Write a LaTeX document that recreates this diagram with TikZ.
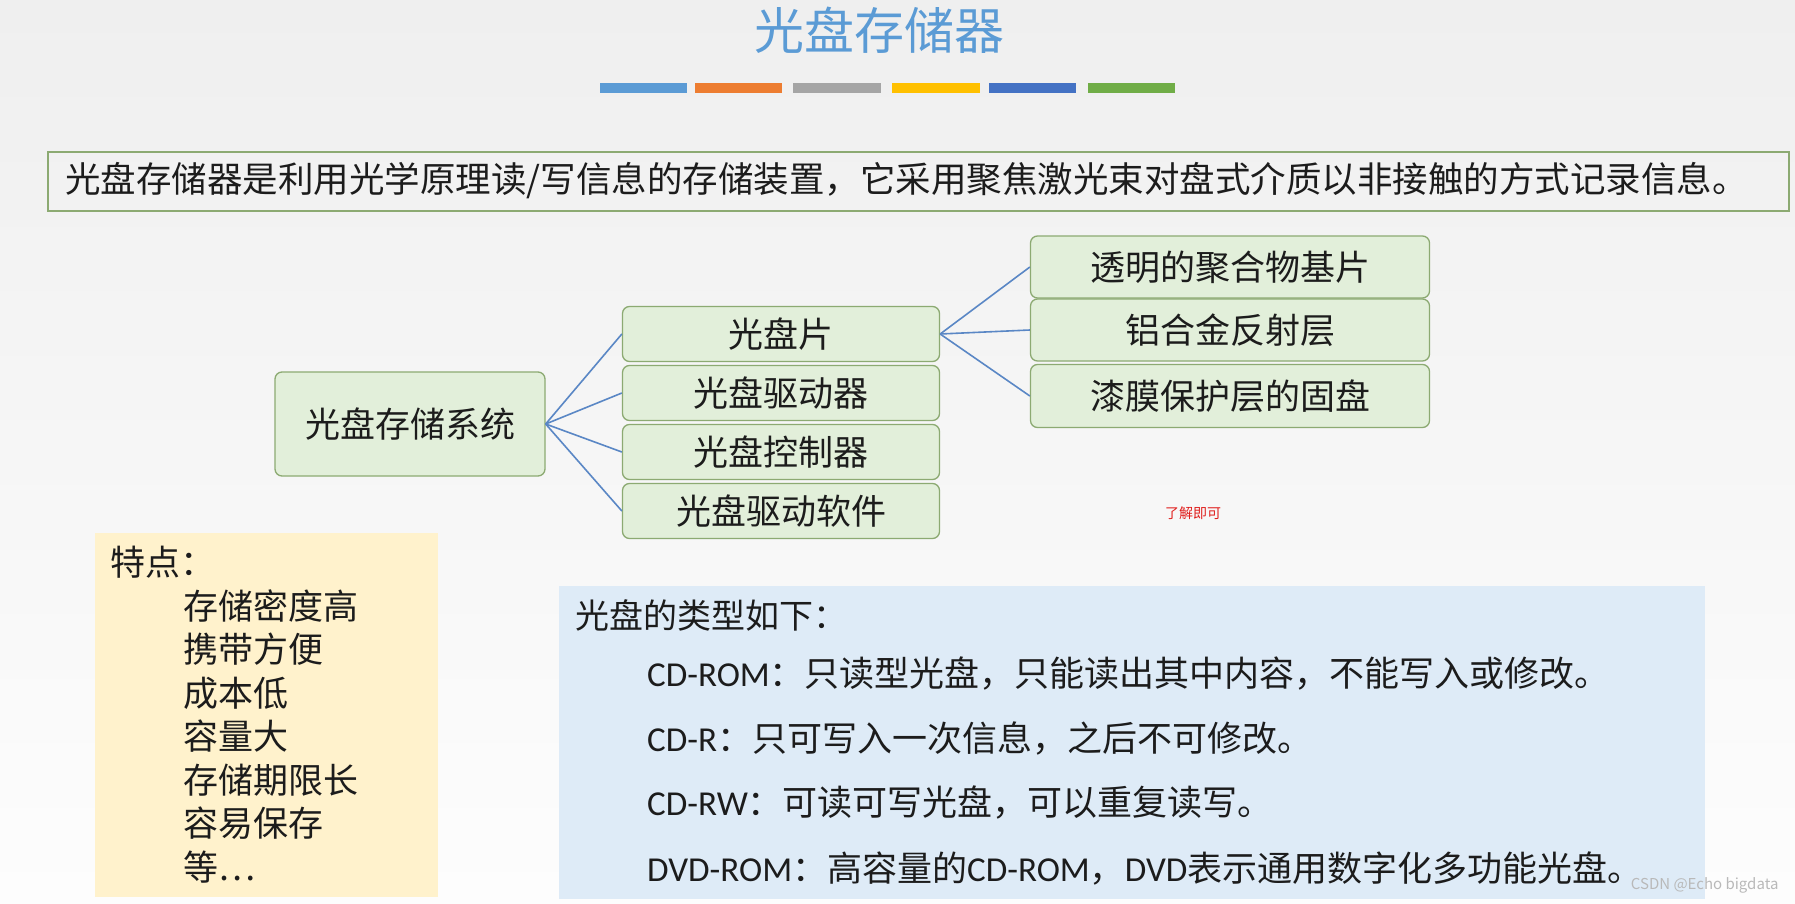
\documentclass[tikz,border=0pt]{standalone}
\usepackage{fontspec}
\setmainfont{Noto Sans CJK SC}
\newfontfamily\latinfont{Carlito}
\definecolor{bgtop}{HTML}{EFEFEF}
\definecolor{bgbottom}{HTML}{FDFDFD}
\definecolor{titleblue}{HTML}{5B9BD5}
\definecolor{bar1}{HTML}{5B9BD5}
\definecolor{bar2}{HTML}{ED7D31}
\definecolor{bar3}{HTML}{A5A5A5}
\definecolor{bar4}{HTML}{FFC000}
\definecolor{bar5}{HTML}{4472C4}
\definecolor{bar6}{HTML}{70AD47}
\definecolor{boxgreen}{HTML}{E2EFDA}
\definecolor{edgegreen}{HTML}{8CAA72}
\definecolor{linkblue}{HTML}{5A87C5}
\definecolor{noteyellow}{HTML}{FFF2CC}
\definecolor{noteblue}{HTML}{DEEBF7}
\definecolor{notered}{HTML}{E0201E}
\definecolor{inkgray}{HTML}{1C1C1C}

\begin{document}
\begin{tikzpicture}[x=1pt,y=-1pt,
  partbox/.style={rounded corners=7pt, fill=boxgreen, draw=edgegreen, line width=1.3pt, text=inkgray, font=\fontsize{35}{40}\selectfont},
  link/.style={draw=linkblue, line width=1.6pt},
  typeline/.style={anchor=west, inner sep=0pt, text=inkgray, font=\fontsize{35}{40}\selectfont},
  featline/.style={anchor=west, inner sep=0pt, text=inkgray, font=\fontsize{35}{40}\selectfont}]
\useasboundingbox (0,0) rectangle (1795,904);
\shade[top color=bgtop, bottom color=bgbottom] (0,0) rectangle (1795,904);

\node (title) [text=titleblue, font=\fontsize{50}{56}\selectfont] at (879,30) {光盘存储器};
\fill[bar1] (600,83) rectangle (687,93);
\fill[bar2] (695,83) rectangle (782,93);
\fill[bar3] (793,83) rectangle (881,93);
\fill[bar4] (892,83) rectangle (980,93);
\fill[bar5] (989,83) rectangle (1076,93);
\fill[bar6] (1088,83) rectangle (1175,93);

\draw[draw=edgegreen, line width=1.3pt] (48,152) rectangle (1789,211);
\node (deftext) [anchor=west, inner sep=0pt, text=inkgray, font=\fontsize{35.5}{40}\selectfont] at (65,181) {光盘存储器是利用光学原理读/写信息的存储装置，它采用聚焦激光束对盘式介质以非接触的方式记录信息。};

\node (system) [partbox, minimum width=270pt, minimum height=104pt] at (410,424) {光盘存储系统};
\node (platter) [partbox, minimum width=317pt, minimum height=55pt] at (781,334) {光盘片};
\node (drive) [partbox, minimum width=317pt, minimum height=55pt] at (781,393) {光盘驱动器};
\node (ctrl) [partbox, minimum width=317pt, minimum height=55pt] at (781,452) {光盘控制器};
\node (soft) [partbox, minimum width=317pt, minimum height=55pt] at (781,511) {光盘驱动软件};
\node (substrate) [partbox, minimum width=399pt, minimum height=62pt] at (1230,267) {透明的聚合物基片};
\node (reflect) [partbox, minimum width=399pt, minimum height=62pt] at (1230,330) {铝合金反射层};
\node (lacquer) [partbox, minimum width=399pt, minimum height=63pt] at (1230,396) {漆膜保护层的固盘};

\draw[link] (system.east) -- (platter.west);
\draw[link] (system.east) -- (drive.west);
\draw[link] (system.east) -- (ctrl.west);
\draw[link] (system.east) -- (soft.west);
\draw[link] (platter.east) -- (substrate.west);
\draw[link] (platter.east) -- (reflect.west);
\draw[link] (platter.east) -- (lacquer.west);

\node (note) [text=notered, font=\fontsize{14}{16}\selectfont] at (1193,513) {了解即可};

\node (featbox) [fill=noteyellow, anchor=north west, minimum width=343pt, minimum height=364pt, inner sep=0pt] at (95,533) {};
\node (feathead) [featline] at (110,562) {特点：};
\node (feat1) [featline] at (183,606) {存储密度高};
\node (feat2) [featline] at (183,649) {携带方便};
\node (feat3) [featline] at (183,693) {成本低};
\node (feat4) [featline] at (183,736) {容量大};
\node (feat5) [featline] at (183,780) {存储期限长};
\node (feat6) [featline] at (183,823) {容易保存};
\node (feat7) [featline] at (183,867) {等…};

\node (typebox) [fill=noteblue, anchor=north west, minimum width=1146pt, minimum height=313pt, inner sep=0pt] at (559,586) {};
\node (typehead) [typeline, font=\fontsize{34}{40}\selectfont] at (575,615) {光盘的类型如下：};
\node (cdrom) [typeline] at (647,673) {{\latinfont CD-ROM}：只读型光盘，只能读出其中内容，不能写入或修改。};
\node (cdr) [typeline] at (647,738) {{\latinfont CD-R}：只可写入一次信息，之后不可修改。};
\node (cdrw) [typeline] at (647,802) {{\latinfont CD-RW}：可读可写光盘，可以重复读写。};
\node (dvdrom) [typeline] at (647,868) {{\latinfont DVD-ROM}：高容量的{\latinfont CD-ROM}，{\latinfont DVD}表示通用数字化多功能光盘。};

\node (mark) [anchor=east, text=gray!55, font=\fontsize{15}{17}\selectfont] at (1782,885) {CSDN @Echo bigdata};
\end{tikzpicture}
\end{document}
